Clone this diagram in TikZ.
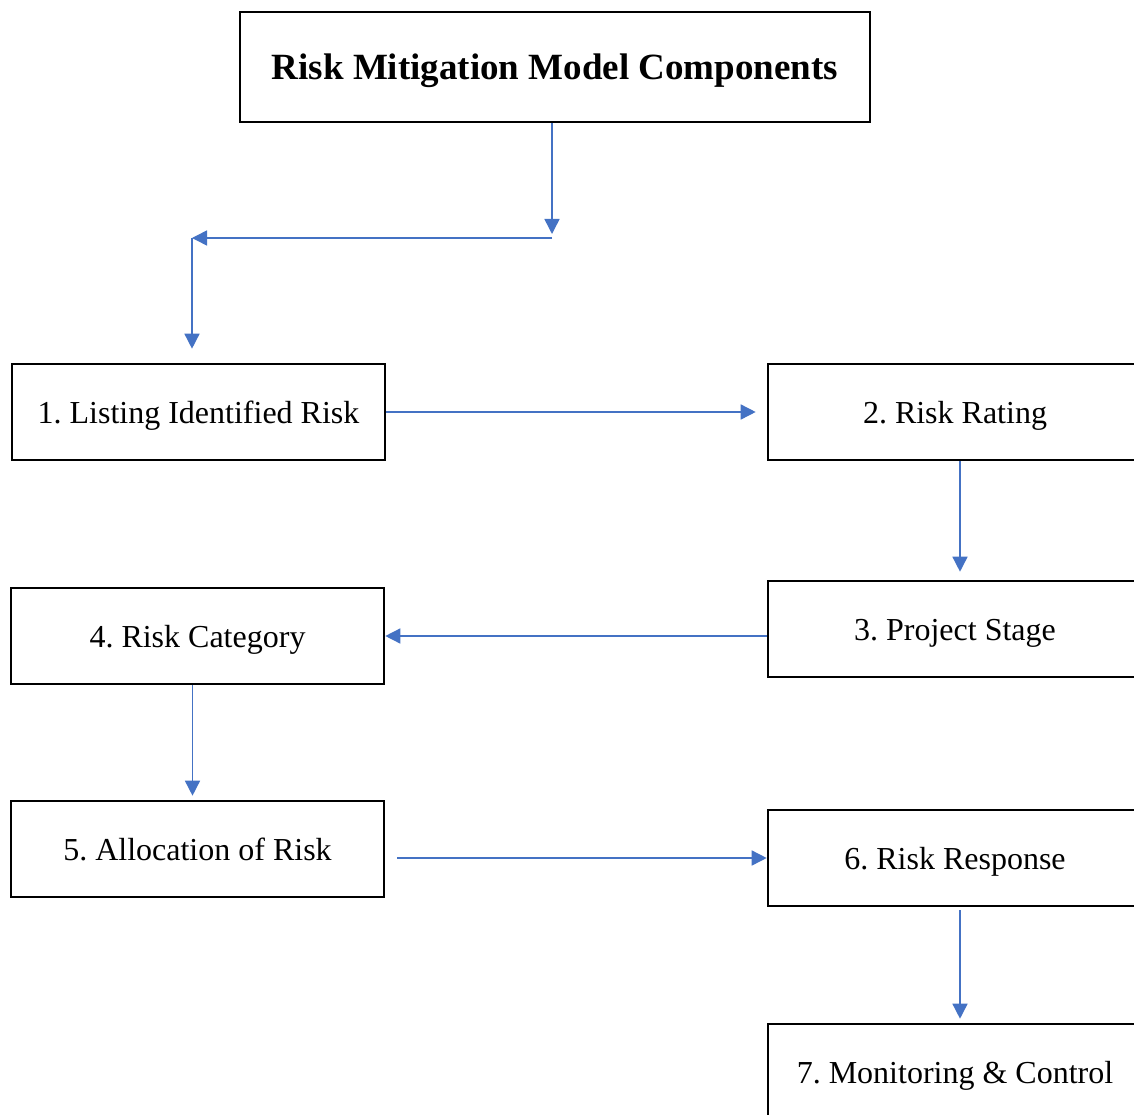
\documentclass[tikz,border=0pt]{standalone}
\usepackage{fontspec}
\setmainfont{Liberation Serif}
\frenchspacing
\usetikzlibrary{arrows.meta}
\definecolor{linkblue}{HTML}{4472C4}
\tikzset{
  stepbox/.style={draw=black, line width=2.6pt, rectangle, inner sep=0pt,
    minimum width=373pt, minimum height=96pt, text height=23pt, text depth=0pt,
    font=\fontsize{32pt}{36pt}\selectfont},
  titlebox/.style={draw=black, line width=2.6pt, rectangle, inner sep=0pt,
    minimum width=630pt, minimum height=110pt, text height=26pt, text depth=0pt,
    font=\fontsize{37pt}{42pt}\selectfont\bfseries},
  arr/.style={draw=linkblue, line width=1.5pt, -{Triangle[width=15pt,length=15pt]}},
}
\begin{document}
\begin{tikzpicture}[x=1pt,y=-1pt]
\useasboundingbox (0,0) rectangle (1134,1115);
\clip (0,0) rectangle (1134,1115);
\fill[white] (0,0) rectangle (1134,1115);

\node[titlebox] (title) at (555,67) {Risk Mitigation Model Components};
\node[stepbox] (b1) at (198.5,412) {1. Listing Identified Risk};
\node[stepbox, minimum width=374pt] (b2) at (955,412) {2. Risk Rating};
\node[stepbox, minimum width=374pt] (b3) at (955,629) {3. Project Stage};
\node[stepbox] (b4) at (197.5,636) {4. Risk Category};
\node[stepbox] (b5) at (197.5,849) {5. Allocation of Risk};
\node[stepbox, minimum width=374pt] (b6) at (955,858) {6. Risk Response};
\node[stepbox, minimum width=374pt] (b7) at (955,1072) {7. Monitoring \& Control};

\coordinate (c1) at (552,238);
\coordinate (c2) at (192,238);

\draw[arr, shorten >=4pt] (title.south -| c1) -- (c1);
\draw[arr] (c1) -- (c2);
\draw[arr, shorten >=14pt] (c2) -- (b1.north -| c2);
\draw[arr, shorten >=11pt] (b1.east) -- (b1.east -| b2.west);
\draw[arr, shorten >=8pt] ([xshift=5pt]b2.south) -- ([xshift=5pt]b3.north);
\draw[arr] (b4.east -| b3.west) -- (b4.east);
\draw[arr, shorten >=4pt] ([xshift=-5pt]b4.south) -- ([xshift=-5pt]b5.north);
\draw[arr, shorten <=12pt] (b5.east |- b6.west) -- (b6.west);
\draw[arr, shorten <=3pt, shorten >=4pt] ([xshift=5pt]b6.south) -- ([xshift=5pt]b7.north);
\end{tikzpicture}
\end{document}
